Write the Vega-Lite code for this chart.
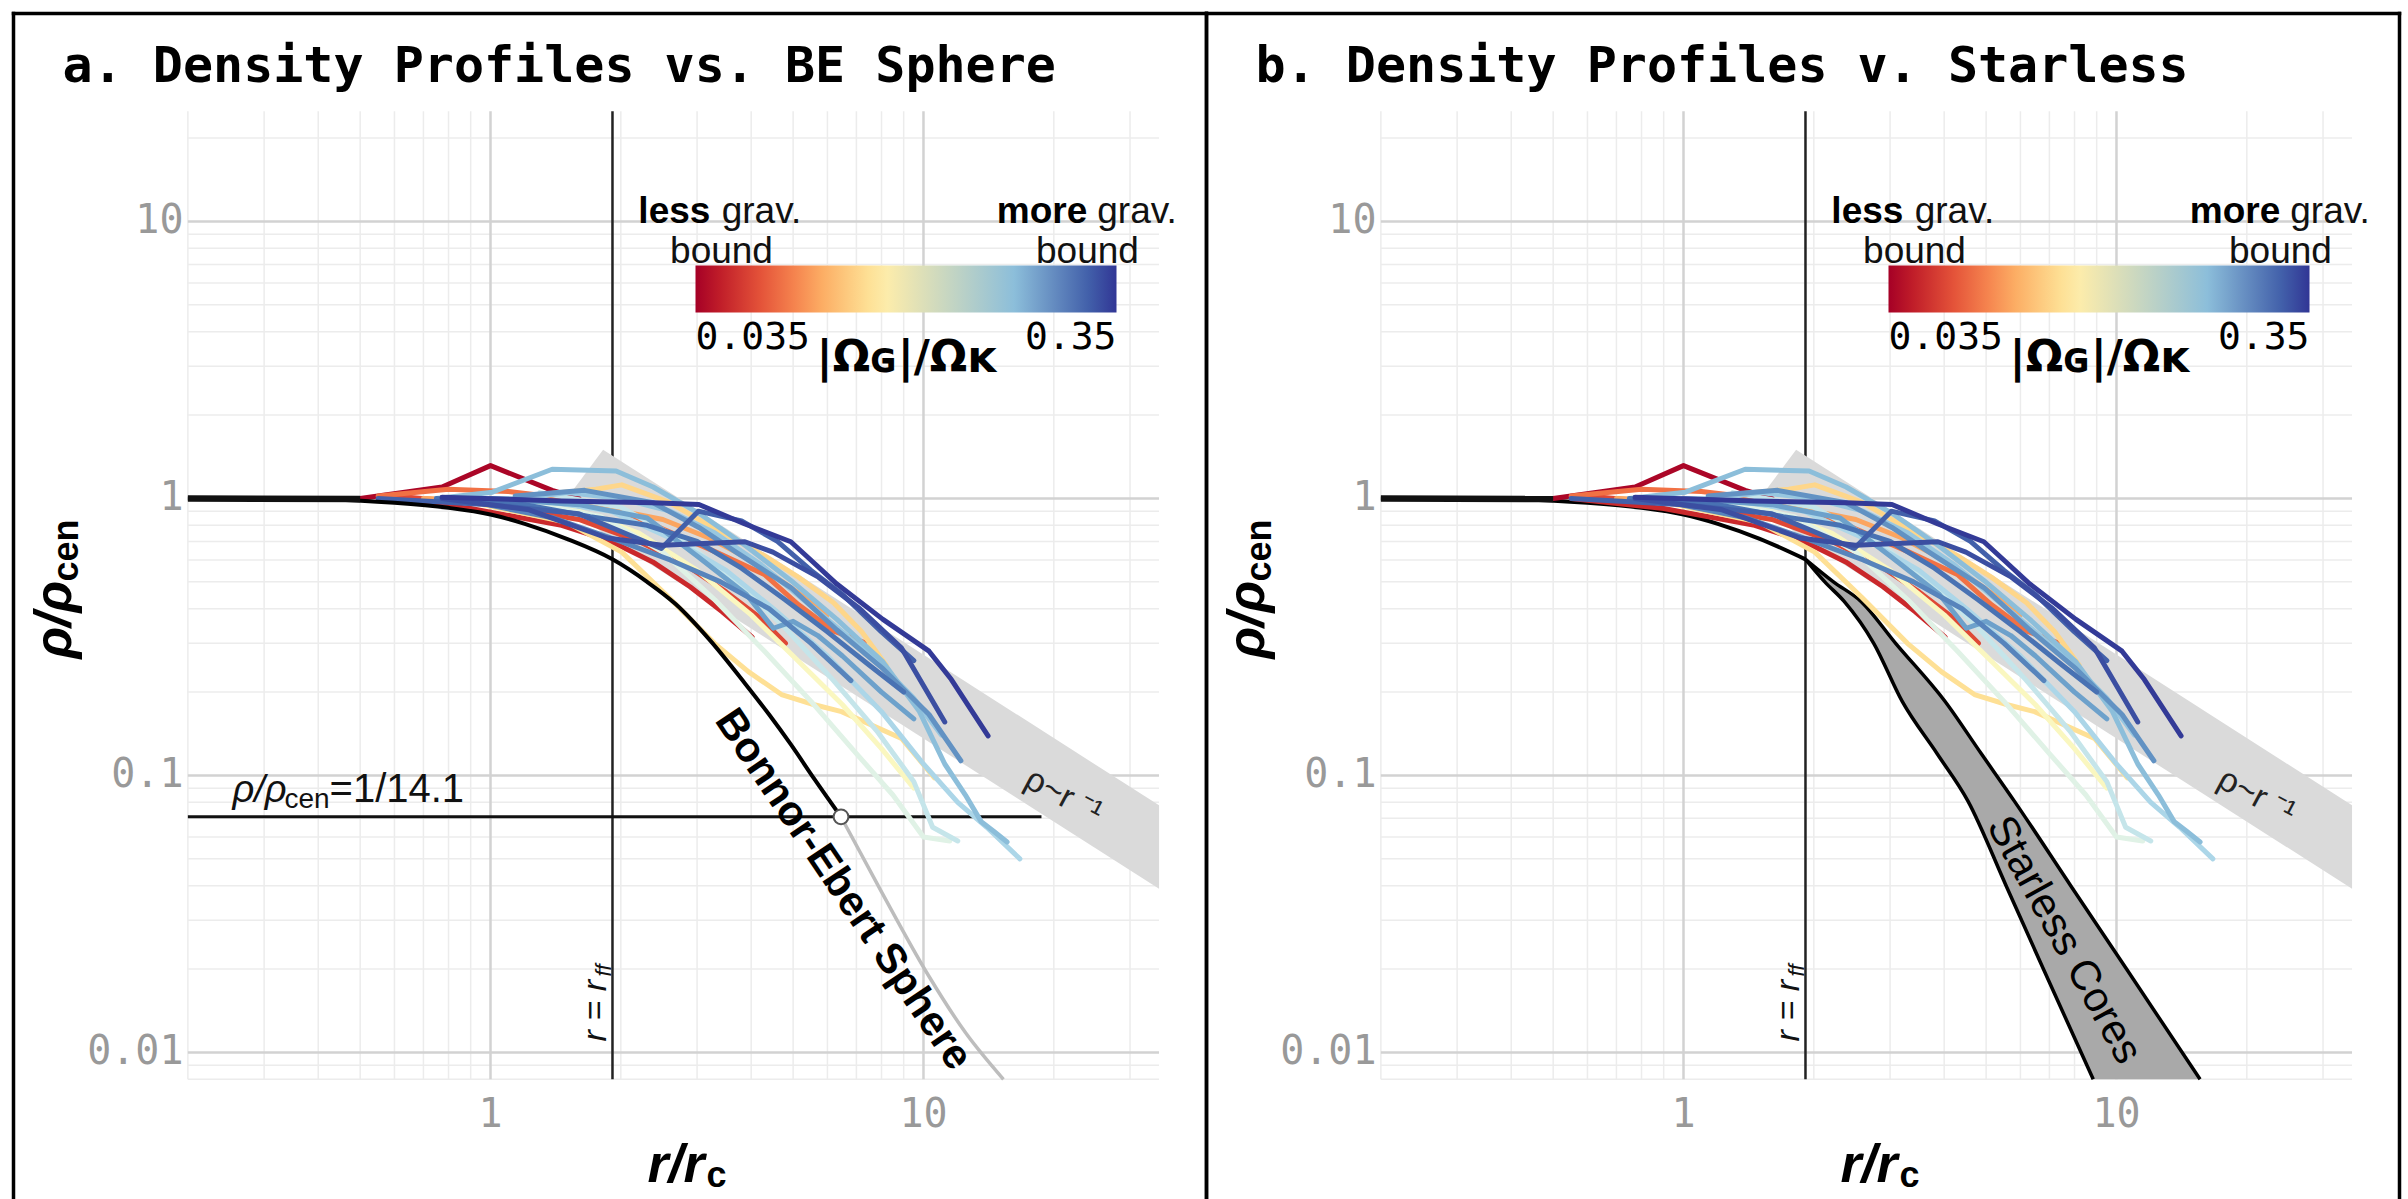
{
"$schema": "https://vega.github.io/schema/vega-lite/v6.json",
"background": "white",
"padding": {"left": 10.5, "top": 10.5, "right": 0, "bottom": 0},
"spacing": 0,
"bounds": "flush",
"config": {"view": {"stroke": null}},
"resolve": {"scale": {"color": "independent"}, "legend": {"color": "independent"}},
"datasets": {
"lines": [
{"id":"L01","w":0.036,"r":0.5,"p":1.0},{"id":"L01","w":0.036,"r":0.773,"p":1.1},{"id":"L01","w":0.036,"r":1.0,"p":1.314},{"id":"L01","w":0.036,"r":1.388,"p":1.07},{"id":"L01","w":0.036,"r":1.6,"p":1.0},
{"id":"L02","w":0.042,"r":0.55,"p":1.0},{"id":"L02","w":0.042,"r":0.9,"p":0.92},{"id":"L02","w":0.042,"r":1.46,"p":0.8},{"id":"L02","w":0.042,"r":1.9,"p":0.7},{"id":"L02","w":0.042,"r":2.37,"p":0.59},{"id":"L02","w":0.042,"r":2.89,"p":0.48},{"id":"L02","w":0.042,"r":3.43,"p":0.39},{"id":"L02","w":0.042,"r":4.02,"p":0.316},
{"id":"L03","w":0.048,"r":0.6,"p":1.02},{"id":"L03","w":0.048,"r":1.0,"p":0.95},{"id":"L03","w":0.048,"r":1.6,"p":0.84},{"id":"L03","w":0.048,"r":2.2,"p":0.7},{"id":"L03","w":0.048,"r":2.8,"p":0.58},{"id":"L03","w":0.048,"r":3.5,"p":0.46},{"id":"L03","w":0.048,"r":4.2,"p":0.37},{"id":"L03","w":0.048,"r":4.8,"p":0.3},
{"id":"L04","w":0.056,"r":0.55,"p":1.02},{"id":"L04","w":0.056,"r":0.8,"p":1.08},{"id":"L04","w":0.056,"r":1.1,"p":1.06},{"id":"L04","w":0.056,"r":1.51,"p":1.0},{"id":"L04","w":0.056,"r":2.01,"p":0.9},{"id":"L04","w":0.056,"r":2.58,"p":0.76},{"id":"L04","w":0.056,"r":3.29,"p":0.644},{"id":"L04","w":0.056,"r":4.29,"p":0.532},{"id":"L04","w":0.056,"r":5.14,"p":0.414},{"id":"L04","w":0.056,"r":6.23,"p":0.331},{"id":"L04","w":0.056,"r":7.31,"p":0.302},
{"id":"L05","w":0.068,"r":0.7,"p":1.0},{"id":"L05","w":0.068,"r":1.2,"p":0.98},{"id":"L05","w":0.068,"r":1.8,"p":0.93},{"id":"L05","w":0.068,"r":2.5,"p":0.84},{"id":"L05","w":0.068,"r":3.2,"p":0.72},{"id":"L05","w":0.068,"r":4.0,"p":0.6},{"id":"L05","w":0.068,"r":5.0,"p":0.47},{"id":"L05","w":0.068,"r":6.0,"p":0.38},
{"id":"L06","w":0.085,"r":1.2,"p":1.02},{"id":"L06","w":0.085,"r":1.75,"p":1.08},{"id":"L06","w":0.085,"r":2.01,"p":1.12},{"id":"L06","w":0.085,"r":2.58,"p":0.97},{"id":"L06","w":0.085,"r":3.29,"p":0.78},{"id":"L06","w":0.085,"r":4.3,"p":0.62},{"id":"L06","w":0.085,"r":5.14,"p":0.52},{"id":"L06","w":0.085,"r":6.2,"p":0.42},{"id":"L06","w":0.085,"r":7.2,"p":0.33},{"id":"L06","w":0.085,"r":8.2,"p":0.25},
{"id":"L07","w":0.09,"r":0.9,"p":0.97},{"id":"L07","w":0.09,"r":1.5,"p":0.82},{"id":"L07","w":0.09,"r":2.01,"p":0.64},{"id":"L07","w":0.09,"r":2.58,"p":0.44},{"id":"L07","w":0.09,"r":3.29,"p":0.3},{"id":"L07","w":0.09,"r":3.94,"p":0.237},{"id":"L07","w":0.09,"r":4.7,"p":0.196},{"id":"L07","w":0.09,"r":5.6,"p":0.18},{"id":"L07","w":0.09,"r":6.47,"p":0.17},{"id":"L07","w":0.09,"r":8.9,"p":0.136},{"id":"L07","w":0.09,"r":10.3,"p":0.1035},{"id":"L07","w":0.09,"r":10.6,"p":0.098},
{"id":"L08","w":0.11,"r":1.0,"p":1.0},{"id":"L08","w":0.11,"r":1.6,"p":0.9},{"id":"L08","w":0.11,"r":2.2,"p":0.75},{"id":"L08","w":0.11,"r":3.0,"p":0.55},{"id":"L08","w":0.11,"r":4.0,"p":0.38},{"id":"L08","w":0.11,"r":5.0,"p":0.27},{"id":"L08","w":0.11,"r":6.5,"p":0.18},{"id":"L08","w":0.11,"r":8.0,"p":0.125},{"id":"L08","w":0.11,"r":9.5,"p":0.09},
{"id":"L09","w":0.135,"r":1.1,"p":1.0},{"id":"L09","w":0.135,"r":1.8,"p":0.86},{"id":"L09","w":0.135,"r":2.5,"p":0.64},{"id":"L09","w":0.135,"r":3.3,"p":0.43},{"id":"L09","w":0.135,"r":4.3,"p":0.28},{"id":"L09","w":0.135,"r":5.5,"p":0.185},{"id":"L09","w":0.135,"r":7.0,"p":0.12},{"id":"L09","w":0.135,"r":8.5,"p":0.085},{"id":"L09","w":0.135,"r":10.0,"p":0.06},{"id":"L09","w":0.135,"r":11.5,"p":0.058},
{"id":"L10","w":0.155,"r":1.3,"p":1.05},{"id":"L10","w":0.155,"r":2.0,"p":0.93},{"id":"L10","w":0.155,"r":2.8,"p":0.7},{"id":"L10","w":0.155,"r":3.7,"p":0.5},{"id":"L10","w":0.155,"r":4.8,"p":0.34},{"id":"L10","w":0.155,"r":6.2,"p":0.22},{"id":"L10","w":0.155,"r":7.8,"p":0.145},{"id":"L10","w":0.155,"r":9.5,"p":0.095},{"id":"L10","w":0.155,"r":10.5,"p":0.065},{"id":"L10","w":0.155,"r":12,"p":0.058},
{"id":"L11","w":0.175,"r":0.8,"p":1.0},{"id":"L11","w":0.175,"r":1.2,"p":1.0},{"id":"L11","w":0.175,"r":1.9,"p":0.9},{"id":"L11","w":0.175,"r":2.6,"p":0.72},{"id":"L11","w":0.175,"r":3.5,"p":0.55},{"id":"L11","w":0.175,"r":4.5,"p":0.4},{"id":"L11","w":0.175,"r":6,"p":0.27},{"id":"L11","w":0.175,"r":8,"p":0.17},{"id":"L11","w":0.175,"r":10,"p":0.11},{"id":"L11","w":0.175,"r":12,"p":0.08},{"id":"L11","w":0.175,"r":14,"p":0.065},{"id":"L11","w":0.175,"r":16.7,"p":0.05},
{"id":"L12","w":0.19,"r":1.2,"p":1.0},{"id":"L12","w":0.19,"r":1.5,"p":1.05},{"id":"L12","w":0.19,"r":2.0,"p":1.0},{"id":"L12","w":0.19,"r":2.6,"p":0.9},{"id":"L12","w":0.19,"r":3.3,"p":0.75},{"id":"L12","w":0.19,"r":4.2,"p":0.58},{"id":"L12","w":0.19,"r":5.2,"p":0.44},{"id":"L12","w":0.19,"r":6.5,"p":0.33},{"id":"L12","w":0.19,"r":8,"p":0.25},{"id":"L12","w":0.19,"r":9.5,"p":0.19},{"id":"L12","w":0.19,"r":11,"p":0.14},
{"id":"L13","w":0.2,"r":0.75,"p":1.0},{"id":"L13","w":0.2,"r":1.01,"p":1.054},{"id":"L13","w":0.2,"r":1.388,"p":1.275},{"id":"L13","w":0.2,"r":1.95,"p":1.256},{"id":"L13","w":0.2,"r":2.375,"p":1.1},{"id":"L13","w":0.2,"r":3.03,"p":0.884},{"id":"L13","w":0.2,"r":3.87,"p":0.678},{"id":"L13","w":0.2,"r":4.94,"p":0.506},{"id":"L13","w":0.2,"r":6.31,"p":0.366},{"id":"L13","w":0.2,"r":8.06,"p":0.257},{"id":"L13","w":0.2,"r":9.79,"p":0.17},{"id":"L13","w":0.2,"r":11.2,"p":0.11},{"id":"L13","w":0.2,"r":12.5,"p":0.085},{"id":"L13","w":0.2,"r":13.6,"p":0.068},{"id":"L13","w":0.2,"r":14.5,"p":0.063},{"id":"L13","w":0.2,"r":15.6,"p":0.0575},
{"id":"L14","w":0.23,"r":1.0,"p":1.0},{"id":"L14","w":0.23,"r":1.6,"p":0.95},{"id":"L14","w":0.23,"r":2.3,"p":0.85},{"id":"L14","w":0.23,"r":3.0,"p":0.62},{"id":"L14","w":0.23,"r":3.9,"p":0.45},{"id":"L14","w":0.23,"r":4.5,"p":0.34},{"id":"L14","w":0.23,"r":5.0,"p":0.36},{"id":"L14","w":0.23,"r":5.7,"p":0.32},{"id":"L14","w":0.23,"r":6.5,"p":0.27},{"id":"L14","w":0.23,"r":8.0,"p":0.2},{"id":"L14","w":0.23,"r":9.5,"p":0.16},
{"id":"L15","w":0.245,"r":1.14,"p":1.02},{"id":"L15","w":0.245,"r":1.65,"p":1.07},{"id":"L15","w":0.245,"r":2.375,"p":0.965},{"id":"L15","w":0.245,"r":3.03,"p":0.786},{"id":"L15","w":0.245,"r":3.69,"p":0.64},{"id":"L15","w":0.245,"r":4.94,"p":0.477},{"id":"L15","w":0.245,"r":6.31,"p":0.335},{"id":"L15","w":0.245,"r":8.06,"p":0.243},{"id":"L15","w":0.245,"r":10.3,"p":0.166},{"id":"L15","w":0.245,"r":12.2,"p":0.113},
{"id":"L16","w":0.26,"r":0.95,"p":0.96},{"id":"L16","w":0.26,"r":1.4,"p":0.85},{"id":"L16","w":0.26,"r":1.9,"p":0.72},{"id":"L16","w":0.26,"r":2.6,"p":0.6},{"id":"L16","w":0.26,"r":3.4,"p":0.5},{"id":"L16","w":0.26,"r":4.4,"p":0.4},{"id":"L16","w":0.26,"r":5.5,"p":0.3},{"id":"L16","w":0.26,"r":6.8,"p":0.22},
{"id":"L17","w":0.28,"r":0.75,"p":1.0},{"id":"L17","w":0.28,"r":1.2,"p":0.95},{"id":"L17","w":0.28,"r":1.7,"p":0.86},{"id":"L17","w":0.28,"r":2.3,"p":0.8},{"id":"L17","w":0.28,"r":3.0,"p":0.7},{"id":"L17","w":0.28,"r":3.8,"p":0.56},{"id":"L17","w":0.28,"r":4.8,"p":0.43},{"id":"L17","w":0.28,"r":6.0,"p":0.33},{"id":"L17","w":0.28,"r":7.5,"p":0.25},{"id":"L17","w":0.28,"r":9.0,"p":0.2},
{"id":"L18","w":0.3,"r":0.55,"p":1.0},{"id":"L18","w":0.3,"r":1.0,"p":0.95},{"id":"L18","w":0.3,"r":1.6,"p":0.88},{"id":"L18","w":0.3,"r":2.48,"p":0.66},{"id":"L18","w":0.3,"r":3.02,"p":0.9},{"id":"L18","w":0.3,"r":3.8,"p":0.83},{"id":"L18","w":0.3,"r":4.6,"p":0.7},{"id":"L18","w":0.3,"r":5.5,"p":0.55},{"id":"L18","w":0.3,"r":6.5,"p":0.45},{"id":"L18","w":0.3,"r":8.0,"p":0.33},{"id":"L18","w":0.3,"r":9.5,"p":0.26},
{"id":"L19","w":0.32,"r":0.773,"p":1.0},{"id":"L19","w":0.32,"r":1.228,"p":0.91},{"id":"L19","w":0.32,"r":1.86,"p":0.72},{"id":"L19","w":0.32,"r":2.49,"p":0.678},{"id":"L19","w":0.32,"r":3.87,"p":0.698},{"id":"L19","w":0.32,"r":4.49,"p":0.64},{"id":"L19","w":0.32,"r":5.72,"p":0.52},{"id":"L19","w":0.32,"r":7.13,"p":0.4},{"id":"L19","w":0.32,"r":8.89,"p":0.289},{"id":"L19","w":0.32,"r":11.2,"p":0.156},
{"id":"L20","w":0.345,"r":0.773,"p":1.01},{"id":"L20","w":0.345,"r":1.457,"p":0.98},{"id":"L20","w":0.345,"r":2.375,"p":0.965},{"id":"L20","w":0.345,"r":3.03,"p":0.951},{"id":"L20","w":0.345,"r":3.87,"p":0.809},{"id":"L20","w":0.345,"r":4.94,"p":0.698},{"id":"L20","w":0.345,"r":5.58,"p":0.586},{"id":"L20","w":0.345,"r":6.31,"p":0.491},{"id":"L20","w":0.345,"r":8.06,"p":0.366},{"id":"L20","w":0.345,"r":10.3,"p":0.281},{"id":"L20","w":0.345,"r":11.6,"p":0.222},{"id":"L20","w":0.345,"r":14.1,"p":0.139}
],
"vminor": [{"v":0.2},{"v":0.3},{"v":0.4},{"v":0.5},{"v":0.6},{"v":0.7},{"v":0.8},{"v":0.9},{"v":2},{"v":3},{"v":4},{"v":5},{"v":6},{"v":7},{"v":8},{"v":9},{"v":20},{"v":30}],
"vmajor": [{"v":1},{"v":10}],
"hminor": [{"v":0.008},{"v":0.009},{"v":0.02},{"v":0.03},{"v":0.04},{"v":0.05},{"v":0.06},{"v":0.07},{"v":0.08},{"v":0.09},{"v":0.2},{"v":0.3},{"v":0.4},{"v":0.5},{"v":0.6},{"v":0.7},{"v":0.8},{"v":0.9},{"v":2},{"v":3},{"v":4},{"v":5},{"v":6},{"v":7},{"v":8},{"v":9},{"v":20}],
"hmajor": [{"v":0.01},{"v":0.1},{"v":1},{"v":10}],
"frame": [{"x1":0.07912,"x2":0.07912,"y1":0.002921,"y2":56.35},{"x1":0.07912,"x2":45.05,"y1":56.35,"y2":56.35},{"x1":45.05,"x2":45.05,"y1":0.002921,"y2":56.35}],
"rff": [{"r":1.913}],
"band": [{"r":1.5,"lo":1.0,"hi":1.0},{"r":1.82,"lo":0.744,"hi":1.5},{"r":35,"lo":0.039,"hi":0.078}],
"be": [{"r":0.2,"p":1.0},{"r":0.43,"p":0.99},{"r":0.6,"p":0.965},{"r":0.8,"p":0.925},{"r":1.0,"p":0.875},{"r":1.2,"p":0.81},{"r":1.5,"p":0.715},{"r":1.913,"p":0.603},{"r":2.3,"p":0.5},{"r":2.68,"p":0.415},{"r":3.2,"p":0.31},{"r":3.87,"p":0.215},{"r":4.4,"p":0.166},{"r":4.93,"p":0.13},{"r":5.6,"p":0.097},{"r":6.45,"p":0.0709}],
"betail": [{"r":6.45,"p":0.0709},{"r":8.0,"p":0.038},{"r":10.26,"p":0.019},{"r":12.5,"p":0.0118},{"r":15.3,"p":0.008}],
"core": [{"r":0.2,"p":1.0},{"r":0.5,"p":0.995}],
"crit": [{"p":0.0709,"x1":0.2,"x2":18.73}],
"critpt": [{"r":6.45,"p":0.0709}],
"starless": [{"p":0.603,"xl":1.913,"xr":1.913},{"p":0.5,"xl":2.12,"xr":2.22},{"p":0.425,"xl":2.35,"xr":2.57},{"p":0.3,"xl":2.75,"xr":3.09},{"p":0.185,"xl":3.2,"xr":4.02},{"p":0.12,"xl":3.85,"xr":4.87},{"p":0.0808,"xl":4.54,"xr":5.81},{"p":0.04,"xl":5.56,"xr":7.84},{"p":0.02,"xl":6.78,"xr":10.55},{"p":0.008,"xl":8.84,"xr":15.6}],
"notes": [
{"k":"title_a","x":0.1027,"y":32.0,"t":"a. Density Profiles vs. BE Sphere"},
{"k":"title_b","x":0.1027,"y":32.0,"t":"b. Density Profiles v. Starless"},
{"k":"tx","x":1,"y":0.0054,"t":"1"},{"k":"tx","x":10,"y":0.0054,"t":"10"},
{"k":"ty","x":0.1954,"y":10,"t":"10"},{"k":"ty","x":0.1954,"y":1,"t":"1"},{"k":"ty","x":0.1954,"y":0.1,"t":"0.1"},{"k":"ty","x":0.1954,"y":0.01,"t":"0.01"},
{"k":"xt1","x":3.12,"y":0.00342,"t":"r/r"},{"k":"xt2","x":3.155,"y":0.00326,"t":"c"},
{"k":"yt1","x":0.1077,"y":0.2645,"t":"ρ/ρ"},{"k":"yt2","x":0.1112,"y":0.5015,"t":"cen"},
{"k":"rff1","x":1.844,"y":0.01096,"t":"r = r"},{"k":"rff2","x":1.893,"y":0.0188,"t":"ff"},
{"k":"bold","x":3.22,"y":9.9,"t":"less"},{"k":"bold","x":23.9,"y":9.9,"t":"more"},
{"k":"grav","x":3.42,"y":9.9,"t":"grav."},{"k":"grav","x":25.2,"y":9.9,"t":"grav."},
{"k":"bound","x":3.416,"y":7.1,"t":"bound"},{"k":"bound","x":23.92,"y":7.1,"t":"bound"},
{"k":"rinv","x":21.05,"y":0.084,"t":"ρ~r ⁻¹"},
{"k":"crit1","x":0.2536,"y":0.0805,"t":"ρ/ρ"},{"k":"crit2","x":0.3344,"y":0.0766,"t":"cen"},{"k":"crit3","x":0.4248,"y":0.0805,"t":"=1/14.1"},
{"k":"be","x":6.535,"y":0.0388,"t":"Bonnor-Ebert Sphere"},
{"k":"sl","x":7.58,"y":0.0255,"t":"Starless Cores"}
]
},
"hconcat": [
{
"width": 1193, "height": 1187,
"layer": [
{"data":{"name":"vminor"},"mark":{"type":"rule","color":"#ececec","strokeWidth":1.5},"encoding":{"x":{"field":"v","type":"quantitative","scale":{"type":"log","domain":[0.07912,45.05],"nice":false},"axis":null},"y":{"datum":0.008,"type":"quantitative","scale":{"type":"log","domain":[0.002921,56.35],"nice":false},"axis":null},"y2":{"datum":25}}},
{"data":{"name":"hminor"},"mark":{"type":"rule","color":"#ececec","strokeWidth":1.5},"encoding":{"y":{"field":"v","type":"quantitative","axis":null},"x":{"datum":0.2,"type":"quantitative","axis":null},"x2":{"datum":35}}},
{"data":{"name":"vmajor"},"mark":{"type":"rule","color":"#d2d2d2","strokeWidth":2.5},"encoding":{"x":{"field":"v","type":"quantitative","axis":null},"y":{"datum":0.008,"type":"quantitative","axis":null},"y2":{"datum":25}}},
{"data":{"name":"hmajor"},"mark":{"type":"rule","color":"#d2d2d2","strokeWidth":2.5},"encoding":{"y":{"field":"v","type":"quantitative","axis":null},"x":{"datum":0.2,"type":"quantitative","axis":null},"x2":{"datum":35}}},
{"data":{"name":"frame"},"mark":{"type":"rule","color":"black","strokeWidth":3.5,"strokeCap":"square"},"encoding":{"x":{"field":"x1","type":"quantitative","axis":null},"x2":{"field":"x2"},"y":{"field":"y1","type":"quantitative","axis":null},"y2":{"field":"y2"}}},
{"data":{"name":"rff"},"mark":{"type":"rule","color":"#222","strokeWidth":2.5},"encoding":{"x":{"field":"r","type":"quantitative","axis":null},"y":{"datum":0.008,"type":"quantitative","axis":null},"y2":{"datum":25}}},
{"data":{"name":"band"},"mark":{"type":"area","color":"#dadada","opacity":1},"encoding":{"x":{"field":"r","type":"quantitative","axis":null},"y":{"field":"lo","type":"quantitative","axis":null},"y2":{"field":"hi"}}},
{"data":{"name":"crit"},"mark":{"type":"rule","color":"#111","strokeWidth":3},"encoding":{"x":{"field":"x1","type":"quantitative","axis":null},"x2":{"field":"x2"},"y":{"field":"p","type":"quantitative","axis":null}}},
{"data":{"name":"betail"},"mark":{"type":"line","color":"#bdbdbd","strokeWidth":3.5,"interpolate":"monotone"},"encoding":{"x":{"field":"r","type":"quantitative","axis":null},"y":{"field":"p","type":"quantitative","axis":null}}},
{"data":{"name":"lines"},"mark":{"type":"line","strokeWidth":5,"strokeCap":"round","strokeJoin":"round"},"encoding":{"x":{"field":"r","type":"quantitative","axis":null},"y":{"field":"p","type":"quantitative","axis":null},"detail":{"field":"id","type":"nominal"},"color":{"field":"w","type":"quantitative","scale":{"type":"log","domain":[0.035,0.35],"scheme":"redyellowblue"},"legend":{"orient":"none","legendX":682,"legendY":252,"direction":"horizontal","gradientLength":421,"gradientThickness":47,"gradientStrokeWidth":0,"values":[0.035,0.35],"format":".3~f","labelFont":"DejaVu Sans Mono","labelFontSize":38,"labelColor":"black","labelOffset":6,"labelAlign":"center","labelOverlap":false,"title":"|Ωɢ|/Ωᴋ","titleOrient":"bottom","titleAnchor":"middle","titleFont":"DejaVu Sans","titleFontWeight":"bold","titleFontSize":44,"titleColor":"black","titlePadding":-20,"padding":0}}}},
{"data":{"name":"be"},"mark":{"type":"line","color":"black","strokeWidth":4,"interpolate":"monotone"},"encoding":{"x":{"field":"r","type":"quantitative","axis":null},"y":{"field":"p","type":"quantitative","axis":null}}},
{"data":{"name":"core"},"mark":{"type":"line","color":"#111","strokeWidth":6.5},"encoding":{"x":{"field":"r","type":"quantitative","axis":null},"y":{"field":"p","type":"quantitative","axis":null}}},
{"data":{"name":"critpt"},"mark":{"type":"point","filled":true,"fill":"white","stroke":"#555","strokeWidth":2,"size":220,"opacity":1},"encoding":{"x":{"field":"r","type":"quantitative","axis":null},"y":{"field":"p","type":"quantitative","axis":null}}},
{"data":{"name":"notes"},"transform":[{"filter":"datum.k == 'title_a'"}],"mark":{"type":"text","font":"DejaVu Sans Mono","fontWeight":"bold","fontSize":50,"align":"left","baseline":"alphabetic","color":"black"},"encoding":{"x":{"field":"x","type":"quantitative","axis":null},"y":{"field":"y","type":"quantitative","axis":null},"text":{"field":"t"}}},
{"data":{"name":"notes"},"transform":[{"filter":"datum.k == 'tx'"}],"mark":{"type":"text","font":"DejaVu Sans Mono","fontSize":40,"align":"center","baseline":"alphabetic","color":"#999999"},"encoding":{"x":{"field":"x","type":"quantitative","axis":null},"y":{"field":"y","type":"quantitative","axis":null},"text":{"field":"t"}}},
{"data":{"name":"notes"},"transform":[{"filter":"datum.k == 'ty'"}],"mark":{"type":"text","font":"DejaVu Sans Mono","fontSize":40,"align":"right","baseline":"middle","color":"#999999"},"encoding":{"x":{"field":"x","type":"quantitative","axis":null},"y":{"field":"y","type":"quantitative","axis":null},"text":{"field":"t"}}},
{"data":{"name":"notes"},"transform":[{"filter":"datum.k == 'xt1'"}],"mark":{"type":"text","font":"Liberation Sans","fontWeight":"bold","fontStyle":"italic","fontSize":54,"align":"right","baseline":"alphabetic","color":"black"},"encoding":{"x":{"field":"x","type":"quantitative","axis":null},"y":{"field":"y","type":"quantitative","axis":null},"text":{"field":"t"}}},
{"data":{"name":"notes"},"transform":[{"filter":"datum.k == 'xt2'"}],"mark":{"type":"text","font":"Liberation Sans","fontWeight":"bold","fontSize":36,"align":"left","baseline":"alphabetic","color":"black"},"encoding":{"x":{"field":"x","type":"quantitative","axis":null},"y":{"field":"y","type":"quantitative","axis":null},"text":{"field":"t"}}},
{"data":{"name":"notes"},"transform":[{"filter":"datum.k == 'yt1'"}],"mark":{"type":"text","font":"Liberation Sans","fontWeight":"bold","fontStyle":"italic","fontSize":52,"align":"left","baseline":"alphabetic","angle":270,"color":"black"},"encoding":{"x":{"field":"x","type":"quantitative","axis":null},"y":{"field":"y","type":"quantitative","axis":null},"text":{"field":"t"}}},
{"data":{"name":"notes"},"transform":[{"filter":"datum.k == 'yt2'"}],"mark":{"type":"text","font":"Liberation Sans","fontWeight":"bold","fontSize":36,"align":"left","baseline":"alphabetic","angle":270,"color":"black"},"encoding":{"x":{"field":"x","type":"quantitative","axis":null},"y":{"field":"y","type":"quantitative","axis":null},"text":{"field":"t"}}},
{"data":{"name":"notes"},"transform":[{"filter":"datum.k == 'rff1'"}],"mark":{"type":"text","font":"Liberation Sans","fontStyle":"italic","fontSize":34,"align":"left","baseline":"alphabetic","angle":270,"color":"#111"},"encoding":{"x":{"field":"x","type":"quantitative","axis":null},"y":{"field":"y","type":"quantitative","axis":null},"text":{"field":"t"}}},
{"data":{"name":"notes"},"transform":[{"filter":"datum.k == 'rff2'"}],"mark":{"type":"text","font":"Liberation Sans","fontStyle":"italic","fontSize":22,"align":"left","baseline":"alphabetic","angle":270,"color":"#111"},"encoding":{"x":{"field":"x","type":"quantitative","axis":null},"y":{"field":"y","type":"quantitative","axis":null},"text":{"field":"t"}}},
{"data":{"name":"notes"},"transform":[{"filter":"datum.k == 'bold'"}],"mark":{"type":"text","font":"Liberation Sans","fontWeight":"bold","fontSize":37,"align":"right","baseline":"alphabetic","color":"black"},"encoding":{"x":{"field":"x","type":"quantitative","axis":null},"y":{"field":"y","type":"quantitative","axis":null},"text":{"field":"t"}}},
{"data":{"name":"notes"},"transform":[{"filter":"datum.k == 'grav'"}],"mark":{"type":"text","font":"Liberation Sans","fontSize":37,"align":"left","baseline":"alphabetic","color":"#111"},"encoding":{"x":{"field":"x","type":"quantitative","axis":null},"y":{"field":"y","type":"quantitative","axis":null},"text":{"field":"t"}}},
{"data":{"name":"notes"},"transform":[{"filter":"datum.k == 'bound'"}],"mark":{"type":"text","font":"Liberation Sans","fontSize":37,"align":"center","baseline":"alphabetic","color":"#111"},"encoding":{"x":{"field":"x","type":"quantitative","axis":null},"y":{"field":"y","type":"quantitative","axis":null},"text":{"field":"t"}}},
{"data":{"name":"notes"},"transform":[{"filter":"datum.k == 'rinv'"}],"mark":{"type":"text","font":"Liberation Sans","fontSize":34,"align":"center","baseline":"middle","angle":28,"color":"#222"},"encoding":{"x":{"field":"x","type":"quantitative","axis":null},"y":{"field":"y","type":"quantitative","axis":null},"text":{"field":"t"}}},
{"data":{"name":"notes"},"transform":[{"filter":"datum.k == 'crit1'"}],"mark":{"type":"text","font":"Liberation Sans","fontStyle":"italic","fontSize":38,"align":"left","baseline":"alphabetic","color":"#111"},"encoding":{"x":{"field":"x","type":"quantitative","axis":null},"y":{"field":"y","type":"quantitative","axis":null},"text":{"field":"t"}}},
{"data":{"name":"notes"},"transform":[{"filter":"datum.k == 'crit2'"}],"mark":{"type":"text","font":"Liberation Sans","fontSize":28,"align":"left","baseline":"alphabetic","color":"#111"},"encoding":{"x":{"field":"x","type":"quantitative","axis":null},"y":{"field":"y","type":"quantitative","axis":null},"text":{"field":"t"}}},
{"data":{"name":"notes"},"transform":[{"filter":"datum.k == 'crit3'"}],"mark":{"type":"text","font":"Liberation Sans","fontSize":40,"align":"left","baseline":"alphabetic","color":"#111"},"encoding":{"x":{"field":"x","type":"quantitative","axis":null},"y":{"field":"y","type":"quantitative","axis":null},"text":{"field":"t"}}},
{"data":{"name":"notes"},"transform":[{"filter":"datum.k == 'be'"}],"mark":{"type":"text","font":"Liberation Sans","fontWeight":"bold","fontSize":42,"align":"center","baseline":"middle","angle":56,"color":"black"},"encoding":{"x":{"field":"x","type":"quantitative","axis":null},"y":{"field":"y","type":"quantitative","axis":null},"text":{"field":"t"}}}
]
},
{
"width": 1193, "height": 1187,
"layer": [
{"data":{"name":"vminor"},"mark":{"type":"rule","color":"#ececec","strokeWidth":1.5},"encoding":{"x":{"field":"v","type":"quantitative","scale":{"type":"log","domain":[0.07912,45.05],"nice":false},"axis":null},"y":{"datum":0.008,"type":"quantitative","scale":{"type":"log","domain":[0.002921,56.35],"nice":false},"axis":null},"y2":{"datum":25}}},
{"data":{"name":"hminor"},"mark":{"type":"rule","color":"#ececec","strokeWidth":1.5},"encoding":{"y":{"field":"v","type":"quantitative","axis":null},"x":{"datum":0.2,"type":"quantitative","axis":null},"x2":{"datum":35}}},
{"data":{"name":"vmajor"},"mark":{"type":"rule","color":"#d2d2d2","strokeWidth":2.5},"encoding":{"x":{"field":"v","type":"quantitative","axis":null},"y":{"datum":0.008,"type":"quantitative","axis":null},"y2":{"datum":25}}},
{"data":{"name":"hmajor"},"mark":{"type":"rule","color":"#d2d2d2","strokeWidth":2.5},"encoding":{"y":{"field":"v","type":"quantitative","axis":null},"x":{"datum":0.2,"type":"quantitative","axis":null},"x2":{"datum":35}}},
{"data":{"name":"frame"},"mark":{"type":"rule","color":"black","strokeWidth":3.5,"strokeCap":"square"},"encoding":{"x":{"field":"x1","type":"quantitative","axis":null},"x2":{"field":"x2"},"y":{"field":"y1","type":"quantitative","axis":null},"y2":{"field":"y2"}}},
{"data":{"name":"rff"},"mark":{"type":"rule","color":"#222","strokeWidth":2.5},"encoding":{"x":{"field":"r","type":"quantitative","axis":null},"y":{"datum":0.008,"type":"quantitative","axis":null},"y2":{"datum":25}}},
{"data":{"name":"band"},"mark":{"type":"area","color":"#dadada","opacity":1},"encoding":{"x":{"field":"r","type":"quantitative","axis":null},"y":{"field":"lo","type":"quantitative","axis":null},"y2":{"field":"hi"}}},
{"data":{"name":"starless"},"mark":{"type":"area","orient":"horizontal","color":"#a9a9a9","opacity":1,"interpolate":"monotone"},"encoding":{"y":{"field":"p","type":"quantitative","axis":null},"x":{"field":"xl","type":"quantitative","axis":null},"x2":{"field":"xr"}}},
{"data":{"name":"starless"},"mark":{"type":"line","color":"black","strokeWidth":3.5,"interpolate":"monotone"},"encoding":{"x":{"field":"xl","type":"quantitative","axis":null},"y":{"field":"p","type":"quantitative","axis":null}}},
{"data":{"name":"starless"},"mark":{"type":"line","color":"black","strokeWidth":3.5,"interpolate":"monotone"},"encoding":{"x":{"field":"xr","type":"quantitative","axis":null},"y":{"field":"p","type":"quantitative","axis":null}}},
{"data":{"name":"be"},"transform":[{"filter":"datum.r <= 1.95"}],"mark":{"type":"line","color":"black","strokeWidth":4,"interpolate":"monotone"},"encoding":{"x":{"field":"r","type":"quantitative","axis":null},"y":{"field":"p","type":"quantitative","axis":null}}},
{"data":{"name":"lines"},"mark":{"type":"line","strokeWidth":5,"strokeCap":"round","strokeJoin":"round"},"encoding":{"x":{"field":"r","type":"quantitative","axis":null},"y":{"field":"p","type":"quantitative","axis":null},"detail":{"field":"id","type":"nominal"},"color":{"field":"w","type":"quantitative","scale":{"type":"log","domain":[0.035,0.35],"scheme":"redyellowblue"},"legend":{"orient":"none","legendX":682,"legendY":252,"direction":"horizontal","gradientLength":421,"gradientThickness":47,"gradientStrokeWidth":0,"values":[0.035,0.35],"format":".3~f","labelFont":"DejaVu Sans Mono","labelFontSize":38,"labelColor":"black","labelOffset":6,"labelAlign":"center","labelOverlap":false,"title":"|Ωɢ|/Ωᴋ","titleOrient":"bottom","titleAnchor":"middle","titleFont":"DejaVu Sans","titleFontWeight":"bold","titleFontSize":44,"titleColor":"black","titlePadding":-20,"padding":0}}}},
{"data":{"name":"core"},"mark":{"type":"line","color":"#111","strokeWidth":6.5},"encoding":{"x":{"field":"r","type":"quantitative","axis":null},"y":{"field":"p","type":"quantitative","axis":null}}},
{"data":{"name":"notes"},"transform":[{"filter":"datum.k == 'title_b'"}],"mark":{"type":"text","font":"DejaVu Sans Mono","fontWeight":"bold","fontSize":50,"align":"left","baseline":"alphabetic","color":"black"},"encoding":{"x":{"field":"x","type":"quantitative","axis":null},"y":{"field":"y","type":"quantitative","axis":null},"text":{"field":"t"}}},
{"data":{"name":"notes"},"transform":[{"filter":"datum.k == 'tx'"}],"mark":{"type":"text","font":"DejaVu Sans Mono","fontSize":40,"align":"center","baseline":"alphabetic","color":"#999999"},"encoding":{"x":{"field":"x","type":"quantitative","axis":null},"y":{"field":"y","type":"quantitative","axis":null},"text":{"field":"t"}}},
{"data":{"name":"notes"},"transform":[{"filter":"datum.k == 'ty'"}],"mark":{"type":"text","font":"DejaVu Sans Mono","fontSize":40,"align":"right","baseline":"middle","color":"#999999"},"encoding":{"x":{"field":"x","type":"quantitative","axis":null},"y":{"field":"y","type":"quantitative","axis":null},"text":{"field":"t"}}},
{"data":{"name":"notes"},"transform":[{"filter":"datum.k == 'xt1'"}],"mark":{"type":"text","font":"Liberation Sans","fontWeight":"bold","fontStyle":"italic","fontSize":54,"align":"right","baseline":"alphabetic","color":"black"},"encoding":{"x":{"field":"x","type":"quantitative","axis":null},"y":{"field":"y","type":"quantitative","axis":null},"text":{"field":"t"}}},
{"data":{"name":"notes"},"transform":[{"filter":"datum.k == 'xt2'"}],"mark":{"type":"text","font":"Liberation Sans","fontWeight":"bold","fontSize":36,"align":"left","baseline":"alphabetic","color":"black"},"encoding":{"x":{"field":"x","type":"quantitative","axis":null},"y":{"field":"y","type":"quantitative","axis":null},"text":{"field":"t"}}},
{"data":{"name":"notes"},"transform":[{"filter":"datum.k == 'yt1'"}],"mark":{"type":"text","font":"Liberation Sans","fontWeight":"bold","fontStyle":"italic","fontSize":52,"align":"left","baseline":"alphabetic","angle":270,"color":"black"},"encoding":{"x":{"field":"x","type":"quantitative","axis":null},"y":{"field":"y","type":"quantitative","axis":null},"text":{"field":"t"}}},
{"data":{"name":"notes"},"transform":[{"filter":"datum.k == 'yt2'"}],"mark":{"type":"text","font":"Liberation Sans","fontWeight":"bold","fontSize":36,"align":"left","baseline":"alphabetic","angle":270,"color":"black"},"encoding":{"x":{"field":"x","type":"quantitative","axis":null},"y":{"field":"y","type":"quantitative","axis":null},"text":{"field":"t"}}},
{"data":{"name":"notes"},"transform":[{"filter":"datum.k == 'rff1'"}],"mark":{"type":"text","font":"Liberation Sans","fontStyle":"italic","fontSize":34,"align":"left","baseline":"alphabetic","angle":270,"color":"#111"},"encoding":{"x":{"field":"x","type":"quantitative","axis":null},"y":{"field":"y","type":"quantitative","axis":null},"text":{"field":"t"}}},
{"data":{"name":"notes"},"transform":[{"filter":"datum.k == 'rff2'"}],"mark":{"type":"text","font":"Liberation Sans","fontStyle":"italic","fontSize":22,"align":"left","baseline":"alphabetic","angle":270,"color":"#111"},"encoding":{"x":{"field":"x","type":"quantitative","axis":null},"y":{"field":"y","type":"quantitative","axis":null},"text":{"field":"t"}}},
{"data":{"name":"notes"},"transform":[{"filter":"datum.k == 'bold'"}],"mark":{"type":"text","font":"Liberation Sans","fontWeight":"bold","fontSize":37,"align":"right","baseline":"alphabetic","color":"black"},"encoding":{"x":{"field":"x","type":"quantitative","axis":null},"y":{"field":"y","type":"quantitative","axis":null},"text":{"field":"t"}}},
{"data":{"name":"notes"},"transform":[{"filter":"datum.k == 'grav'"}],"mark":{"type":"text","font":"Liberation Sans","fontSize":37,"align":"left","baseline":"alphabetic","color":"#111"},"encoding":{"x":{"field":"x","type":"quantitative","axis":null},"y":{"field":"y","type":"quantitative","axis":null},"text":{"field":"t"}}},
{"data":{"name":"notes"},"transform":[{"filter":"datum.k == 'bound'"}],"mark":{"type":"text","font":"Liberation Sans","fontSize":37,"align":"center","baseline":"alphabetic","color":"#111"},"encoding":{"x":{"field":"x","type":"quantitative","axis":null},"y":{"field":"y","type":"quantitative","axis":null},"text":{"field":"t"}}},
{"data":{"name":"notes"},"transform":[{"filter":"datum.k == 'rinv'"}],"mark":{"type":"text","font":"Liberation Sans","fontSize":34,"align":"center","baseline":"middle","angle":28,"color":"#222"},"encoding":{"x":{"field":"x","type":"quantitative","axis":null},"y":{"field":"y","type":"quantitative","axis":null},"text":{"field":"t"}}},
{"data":{"name":"notes"},"transform":[{"filter":"datum.k == 'sl'"}],"mark":{"type":"text","font":"Liberation Sans","fontSize":42,"align":"center","baseline":"middle","angle":61,"color":"black"},"encoding":{"x":{"field":"x","type":"quantitative","axis":null},"y":{"field":"y","type":"quantitative","axis":null},"text":{"field":"t"}}}
]
}
]
}
